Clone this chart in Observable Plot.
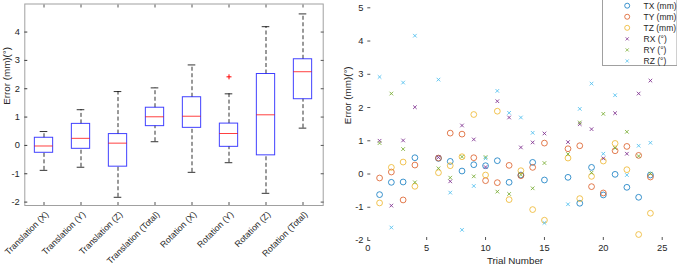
<!DOCTYPE html>
<html><head><meta charset="utf-8">
<script src="https://cdn.jsdelivr.net/npm/d3@7"></script>
<script src="https://cdn.jsdelivr.net/npm/@observablehq/plot@0.6"></script>
<style>
body{margin:0;background:#fff;}
#wrap{position:relative;width:677px;height:268px;overflow:hidden;font-family:"Liberation Sans",Arial,Helvetica,sans-serif;}
#left{position:absolute;left:0;top:0;}
#right{position:absolute;left:340px;top:0;}
#legend{position:absolute;left:601.5px;top:-1px;}
</style></head><body>
<div id="wrap"><div id="left"></div><div id="right"></div><div id="legend"></div></div>
<script>
// ---- Left panel: box plot summary values ----
const boxCategories = ["Translation (X)", "Translation (Y)", "Translation (Z)", "Translation (Total)", "Rotation (X)", "Rotation (Y)", "Rotation (Z)", "Rotation (Total)"];
const boxLower  = [-0.88, -0.77, -1.83, 0.13, -0.95, -0.61, -1.69, 0.61];
const boxQ1     = [-0.26, -0.12, -0.75, 0.68, 0.62, -0.05, -0.35, 1.63];
const boxMedian = [-0.02, 0.25, 0.08, 1.01, 1.03, 0.42, 1.08, 2.60];
const boxQ3     = [0.27, 0.76, 0.40, 1.33, 1.70, 0.77, 2.52, 3.04];
const boxUpper  = [0.49, 1.26, 1.90, 2.03, 2.84, 1.82, 4.19, 4.64];
const outlierCategories = ["Rotation (Y)"];
const outlierValues = [2.42];
const leftYTicks = [-2, -1, 0, 1, 2, 3, 4];
const leftYLabel = "Error (mm)(°)";

// ---- Right panel: per-trial errors ----
const trials = [1, 2, 3, 4, 6, 7, 8, 9, 10, 11, 12, 13, 14, 15, 17, 18, 19, 20, 21, 22, 23, 24];
const TX = [-0.62, -0.25, -0.24, 0.49, 0.47, 0.38, 0.09, 0.28, 0.25, 0.40, -0.25, -0.03, 0.35, -0.18, -0.10, -0.88, 0.20, -0.63, -0.01, -0.40, -0.70, -0.03];
const TY = [-0.12, 0.06, -0.78, 0.27, 0.48, 1.23, 1.20, 0.49, -0.20, -0.26, 0.26, -0.05, 0.20, 0.93, 0.76, 0.85, -0.38, -0.57, 0.70, 0.83, 0.56, -0.09];
const TZ = [-0.87, 0.20, 0.36, -0.37, 0.04, 0.25, 0.52, 1.79, -0.03, 1.89, -0.77, 0.10, -1.07, -1.39, 0.48, -0.74, -0.07, 0.39, 0.92, 0.13, -1.82, -1.18];
const RX = [1.00, -0.95, 1.01, 2.01, 0.50, -0.22, 1.46, 1.04, 0.21, 2.19, 1.70, 0.80, 0.95, 1.22, 0.96, 1.50, 1.35, 0.47, 1.83, 0.61, 2.42, 2.81];
const RY = [0.93, 2.42, 0.75, -0.25, 0.17, -0.11, 0.52, -0.07, 0.51, -0.53, -0.60, -0.02, -0.43, 0.33, 0.60, 1.55, 0.04, 1.81, 0.78, 1.27, 0.54, 0.01];
const RZ = [2.92, -1.61, 2.75, 4.16, 2.84, -0.56, -1.68, -0.36, 0.47, 2.50, 1.84, 1.70, 1.24, -1.47, -0.91, 1.96, 2.72, 0.61, 2.37, -0.03, 0.85, 0.94];
const seriesNames = ["TX (mm)", "TY (mm)", "TZ (mm)", "RX (°)", "RY (°)", "RZ (°)"];
const seriesColors = ["#0072BD", "#D95319", "#EDB120", "#7E2F8E", "#77AC30", "#4DBEEE"];
const seriesValues = [TX, TY, TZ, RX, RY, RZ];
const rightXTicks = [0, 5, 10, 15, 20, 25];
const rightYTicks = [-2, -1, 0, 1, 2, 3, 4, 5];
const rightXLabel = "Trial Number";
const rightYLabel = "Error (mm)(°)";

const FONT = '"Liberation Sans", Arial, Helvetica, sans-serif';
const fmt = d => String(d);

// build tables
const boxData = boxCategories.map((c, i) => ({cat: c, lo: boxLower[i], q1: boxQ1[i], med: boxMedian[i], q3: boxQ3[i], hi: boxUpper[i]}));
const outliers = outlierCategories.map((c, i) => ({cat: c, v: outlierValues[i]}));

const left = Plot.plot({
  width: 340, height: 268,
  marginLeft: 24.3, marginRight: 17.3, marginTop: 3.5, marginBottom: 63,
  style: {fontFamily: FONT, fontSize: "9.3px", color: "#262626", background: "transparent", overflow: "visible"},
  x: {type: "band", domain: boxCategories, padding: 0, axis: null},
  y: {domain: [-2.12, 4.99], axis: null},
  marks: [
    Plot.frame({stroke: "#a0a0a0"}),
    Plot.axisY({ticks: leftYTicks, tickSize: -3, tickPadding: 8, tickFormat: fmt, line: true, stroke: "#3a3a3a", label: null}),
    Plot.axisY({anchor: "right", ticks: leftYTicks, tickSize: -3, tickFormat: () => "", stroke: "#555", label: null}),
    Plot.axisX({anchor: "bottom", tickSize: -3, tickFormat: () => "", stroke: "#555", label: null}),
    Plot.axisX({anchor: "top", tickSize: -3, tickFormat: () => "", stroke: "#555", label: null}),
    Plot.ruleX(boxData, {x: "cat", y1: "q3", y2: "hi", stroke: "#000", strokeOpacity: 0.8, strokeDasharray: "4,2.5"}),
    Plot.ruleX(boxData, {x: "cat", y1: "lo", y2: "q1", stroke: "#000", strokeOpacity: 0.8, strokeDasharray: "4,2.5"}),
    Plot.tickY(boxData, {x: "cat", y: "hi", stroke: "#000", strokeOpacity: 0.8, insetLeft: 14.7, insetRight: 14.7}),
    Plot.tickY(boxData, {x: "cat", y: "lo", stroke: "#000", strokeOpacity: 0.8, insetLeft: 14.7, insetRight: 14.7}),
    Plot.barY(boxData, {x: "cat", y1: "q1", y2: "q3", fill: "none", stroke: "#0000ff", strokeOpacity: 0.75, insetLeft: 9.35, insetRight: 9.35}),
    Plot.tickY(boxData, {x: "cat", y: "med", stroke: "#ff0000", strokeOpacity: 0.75, insetLeft: 9.35, insetRight: 9.35}),
    Plot.dot(outliers, {x: "cat", y: "v", symbol: "plus", r: 1.75, stroke: "#ff0000", strokeWidth: 1}),
    Plot.text(boxCategories, {x: d => d, text: d => d, frameAnchor: "bottom", rotate: -45, textAnchor: "end", lineAnchor: "middle", dx: 3, dy: 7.5, fontSize: 8.8, fill: "#262626"}),
    Plot.text([leftYLabel], {text: d => d, frameAnchor: "left", dx: -18.3, rotate: -90, fontSize: 9.8, fill: "#262626"})
  ]
});
document.getElementById("left").appendChild(left);

const scatterRows = [];
seriesNames.forEach((s, k) => trials.forEach((t, i) => scatterRows.push({series: s, kind: k < 3 ? "circle" : "times", trial: t, value: seriesValues[k][i]})));

const right = Plot.plot({
  width: 337, height: 268,
  marginLeft: 27.3, marginRight: 15.3, marginTop: 7.3, marginBottom: 28,
  style: {fontFamily: FONT, fontSize: "9.3px", color: "#262626", background: "transparent", overflow: "visible"},
  x: {domain: [0, 25], axis: null},
  y: {domain: [-2, 5], axis: null},
  color: {domain: seriesNames, range: seriesColors},
  marks: [
    Plot.axisY({ticks: rightYTicks, tickSize: -3, tickPadding: 7.3, tickFormat: fmt, line: true, stroke: "#555", label: null}),
    Plot.axisX({ticks: rightXTicks, tickSize: -3, tickPadding: 7, tickFormat: fmt, line: true, stroke: "#555", label: null}),
    Plot.dot(scatterRows.filter(d => d.kind === "circle"), {x: "trial", y: "value", stroke: "series", symbol: "circle", r: 2.9, strokeWidth: 0.9, strokeOpacity: 0.85}),
    Plot.dot(scatterRows.filter(d => d.kind === "times"), {x: "trial", y: "value", stroke: "series", symbol: "times", r: 1.8, strokeWidth: 1, strokeOpacity: 0.85}),
    Plot.text([rightXLabel], {text: d => d, frameAnchor: "bottom", dy: 23, fontSize: 9.8, fill: "#262626"}),
    Plot.text([rightYLabel], {text: d => d, frameAnchor: "left", dx: -20.3, rotate: -90, fontSize: 9.8, fill: "#262626"})
  ]
});
document.getElementById("right").appendChild(right);

// ---- Legend (SVG with real text) ----
const NS = "http://www.w3.org/2000/svg";
const lg = document.createElementNS(NS, "svg");
lg.setAttribute("width", 76); lg.setAttribute("height", 68);
lg.style.fontFamily = FONT;
const box = document.createElementNS(NS, "rect");
box.setAttribute("x", 0.5); box.setAttribute("y", 0.5); box.setAttribute("width", 74.5); box.setAttribute("height", 66);
box.setAttribute("fill", "#fff"); box.setAttribute("stroke", "#a0a0a0");
lg.appendChild(box);
seriesNames.forEach((s, k) => {
  const cy = 6.7 + k * 11.06, cx = 25.2;
  let m;
  if (k < 3) {
    m = document.createElementNS(NS, "circle");
    m.setAttribute("cx", cx); m.setAttribute("cy", cy); m.setAttribute("r", 2.5);
    m.setAttribute("fill", "none");
  } else {
    m = document.createElementNS(NS, "path");
    const r = 1.6;
    m.setAttribute("d", `M${cx - r},${cy - r}L${cx + r},${cy + r}M${cx - r},${cy + r}L${cx + r},${cy - r}`);
  }
  m.setAttribute("stroke", seriesColors[k]); m.setAttribute("stroke-width", 0.9); m.setAttribute("stroke-opacity", 0.85);
  lg.appendChild(m);
  const t = document.createElementNS(NS, "text");
  t.setAttribute("x", 41.5); t.setAttribute("y", cy); t.setAttribute("dy", "0.35em");
  t.setAttribute("font-size", 8.5); t.setAttribute("fill", "#262626");
  t.textContent = s;
  lg.appendChild(t);
});
document.getElementById("legend").appendChild(lg);
</script>
</body></html>
